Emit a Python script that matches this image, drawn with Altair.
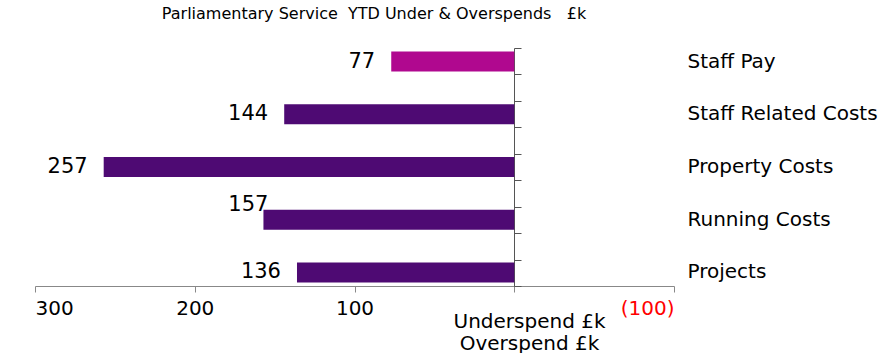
import altair as alt
import pandas as pd

# ---- data ----
categories = ["Staff Pay", "Staff Related Costs", "Property Costs", "Running Costs", "Projects"]
values = [77, 144, 257, 157, 136]
bar_colors = ["#B0088F", "#4E0A73", "#4E0A73", "#4E0A73", "#4E0A73"]
x_ticks = [300, 200, 100, 0, -100]
zero_axis_ticks = list(range(10))

df = pd.DataFrame({"category": categories, "value": values, "color": bar_colors})
zdf = pd.DataFrame({"t": zero_axis_ticks})

FONT = "DejaVu Sans"

x_enc = alt.X(
    "value:Q",
    scale=alt.Scale(domain=[300, -100], nice=False),
    axis=alt.Axis(
        values=x_ticks,
        labelExpr="datum.value == 0 ? '' : (datum.value < 0 ? '(' + format(-datum.value, 'd') + ')' : format(datum.value, 'd'))",
        labelColor={"condition": {"test": "datum.value < 0", "value": "#FF0000"}, "value": "#000000"},
        labelFont=FONT,
        labelFontSize=20,
        labelPadding=6,
        tickSize=6,
        tickColor="#888888",
        domainColor="#888888",
        grid=False,
        title=["Underspend £k", "Overspend £k"],
        titleFont=FONT,
        titleFontSize=20,
        titleFontWeight="normal",
        titleColor="#000000",
        titleX=494,
        titleY=25,
        titleBaseline="top",
        titleAlign="center",
        titleLineHeight=22,
    ),
)

y_scale = alt.Scale(domain=categories, paddingInner=0.62, paddingOuter=0.066)
y_enc = alt.Y(
    "category:N",
    sort=categories,
    scale=y_scale,
    axis=alt.Axis(
        orient="right",
        domain=False,
        ticks=False,
        labelPadding=13,
        labelFont=FONT,
        labelFontSize=20,
        labelLimit=400,
        labelColor="#000000",
        labelAlign="left",
        title=None,
    ),
)

base = alt.Chart(df)
bars = base.mark_bar().encode(
    x=x_enc,
    y=y_enc,
    color=alt.Color("color:N", scale=None),
)

labels = base.transform_filter("datum.category != 'Running Costs'").mark_text(
    align="right", baseline="middle", dx=-16, font=FONT, fontSize=21, color="#000000"
).encode(x=alt.X("value:Q"), y=alt.Y("category:N", sort=categories), text="value:Q")

labels_rc = base.transform_filter("datum.category == 'Running Costs'").mark_text(
    align="right", baseline="middle", dx=5, dy=-15, font=FONT, fontSize=21, color="#000000"
).encode(x=alt.X("value:Q"), y=alt.Y("category:N", sort=categories), text="value:Q")

main = alt.layer(bars, labels, labels_rc)

zero_layer = alt.Chart(zdf).mark_point(opacity=0).encode(
    x=alt.datum(0),
    y=alt.Y(
        "t:Q",
        scale=alt.Scale(domain=[0, 9], nice=False, zero=False),
        axis=alt.Axis(
            orient="right",
            offset=-160,
            values=zero_axis_ticks,
            labels=False,
            tickSize=7,
            tickColor="#555555",
            domainColor="#555555",
            grid=False,
            title=None,
        ),
    ),
)

chart = (
    alt.layer(main, zero_layer)
    .resolve_scale(y="independent")
    .properties(
        width=639,
        height=238,
        autosize="none",
        background="white",
        padding={"left": 35, "top": 48, "right": 210, "bottom": 67},
        title=alt.TitleParams(
            "Parliamentary Service\u00a0\u00a0YTD Under & Overspends\u00a0\u00a0\u00a0£k",
            font=FONT,
            fontSize=16,
            fontWeight="normal",
            color="#000000",
            anchor="middle",
            dx=19.5,
            offset=23,
        ),
    )
    .configure_view(strokeWidth=0, stroke="transparent")
)

chart.save("out.html", embed_options={"renderer": "svg", "actions": False})
